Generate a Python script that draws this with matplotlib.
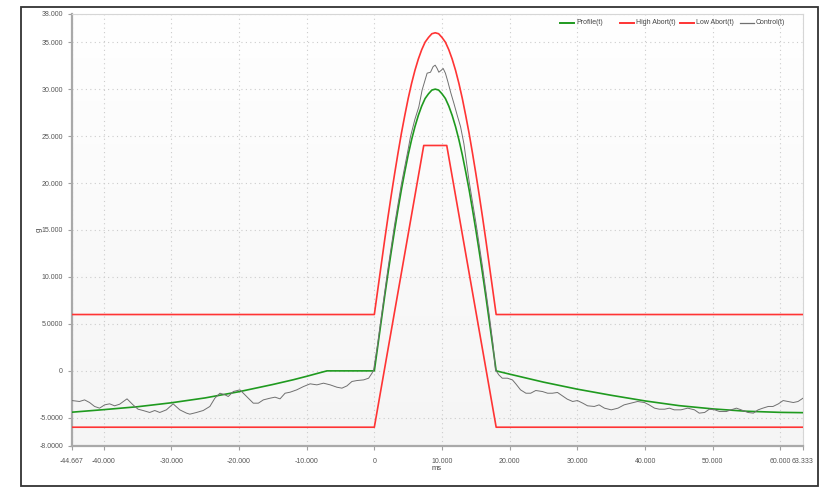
import numpy as np
import matplotlib
matplotlib.use("Agg")
import matplotlib.pyplot as plt
from matplotlib.colors import LinearSegmentedColormap
from matplotlib.lines import Line2D
from matplotlib.patches import Rectangle

plt.rcParams['font.family'] = ['Liberation Sans', 'DejaVu Sans']

# ---------------- data ----------------
# Profile(t): left tail, flat section, pulse, right tail
profile_t = [-44.667, -40, -35, -30, -25, -20, -15, -12, -10, -8, -7,
             0, 0.5, 1, 1.5, 2, 2.5, 3, 3.5, 4, 4.5, 5, 5.5, 6, 6.5, 7, 7.5, 8, 8.5, 9,
             9.5, 10, 10.5, 11, 11.5, 12, 12.5, 13, 13.5, 14, 14.5, 15, 15.5, 16, 16.5,
             17, 17.5, 18,
             20, 25, 30, 35, 40, 45, 50, 55, 60, 63.333]
profile_g = [-4.40, -4.13, -3.82, -3.40, -2.88, -2.22, -1.45, -0.95, -0.58, -0.19, 0.0,
             0.0, 2.6, 5.2, 7.8, 10.3, 12.7, 15.0, 17.2, 19.3, 21.2, 23.0, 24.6, 26.0,
             27.2, 28.2, 29.0, 29.5, 29.9, 30.0,
             29.9, 29.5, 29.0, 28.2, 27.2, 26.0, 24.6, 23.0, 21.2, 19.3, 17.2, 15.0, 12.7,
             10.3, 7.8, 5.2, 2.6, 0.0,
             -0.35, -1.20, -1.95, -2.60, -3.20, -3.70, -4.05, -4.30, -4.42, -4.45]

# High Abort(t)
high_t = [-44.667, 0, 0.5, 1, 1.5, 2, 2.5, 3, 3.5, 4, 4.5, 5, 5.5, 6, 6.5, 7, 7.5, 8, 8.5, 9,
          9.5, 10, 10.5, 11, 11.5, 12, 12.5, 13, 13.5, 14, 14.5, 15, 15.5, 16, 16.5,
          17, 17.5, 18, 63.333]
high_g = [6.0, 6.0, 8.6, 11.2, 13.8, 16.3, 18.7, 21.0, 23.2, 25.3, 27.2, 29.0, 30.6, 32.0,
          33.2, 34.2, 35.0, 35.5, 35.9, 36.0,
          35.9, 35.5, 35.0, 34.2, 33.2, 32.0, 30.6, 29.0, 27.2, 25.3, 23.2, 21.0, 18.7,
          16.3, 13.8, 11.2, 8.6, 6.0, 6.0]

# Low Abort(t)
low_t = [-44.667, 0, 7.3, 10.7, 18, 63.333]
low_g = [-6.0, -6.0, 24.0, 24.0, -6.0, -6.0]

# Control(t): measured trace
control_t = [-44.667, -43.56, -42.81, -42.07, -41.33, -40.59, -39.85, -39.11, -38.37, -37.63,
             -36.54, -35.65, -34.91, -34.17, -33.19, -32.44, -31.70, -30.72, -29.73, -28.74,
             -27.75, -27.26, -26.27, -25.28, -24.30, -23.56, -22.81, -22.07, -21.58, -20.84,
             -19.85, -19.36, -18.62, -17.88, -17.14, -16.40, -15.41, -14.67, -13.93, -13.19,
             -12.44, -11.46, -10.47, -9.48, -8.49, -7.51, -6.52, -5.53, -4.79, -4.05,
             -3.31, -2.57, -1.58, -0.84, -0.35, -0.10,
             0.5, 1.0, 2.0, 3.0, 4.0, 5.0, 5.33, 6.0, 6.57, 7.06, 7.56, 7.80, 8.30, 8.69,
             8.99, 9.28, 9.53, 9.88, 10.17, 10.50, 10.86, 11.26, 11.75, 12.25, 12.74, 13.23,
             14.0, 15.0, 16.0, 17.0, 17.5, 17.9,
             18.4, 18.9, 19.66, 20.4, 20.9, 21.6, 22.4, 23.1, 23.85, 24.84, 25.6, 26.3,
             27.06, 27.8, 28.5, 29.3, 30.0, 30.8, 31.5, 32.5, 33.2, 34.0, 35.0, 36.0, 36.9,
             37.9, 38.9, 39.9, 40.6, 41.4, 42.1, 42.9, 43.6, 44.3, 45.3, 46.3, 47.3, 48.0,
             48.8, 49.5, 50.3, 51.0, 52.0, 52.7, 53.5, 54.2, 55.2, 56.0, 56.7, 57.4, 58.2,
             58.9, 59.7, 60.4, 61.1, 61.9, 62.6, 63.333]
control_g = [-3.16, -3.26, -3.09, -3.37, -3.79, -3.97, -3.62, -3.51, -3.72, -3.55,
             -2.98, -3.62, -4.08, -4.22, -4.43, -4.22, -4.43, -4.15, -3.51, -4.15,
             -4.50, -4.61, -4.43, -4.22, -3.79, -2.91, -2.38, -2.55, -2.73, -2.20,
             -2.02, -2.38, -2.91, -3.44, -3.44, -3.09, -2.91, -2.80, -2.98, -2.38,
             -2.27, -2.02, -1.67, -1.38, -1.49, -1.31, -1.49, -1.74, -1.84, -1.60,
             -1.13, -1.03, -0.96, -0.78, -0.25, 0.10,
             2.9, 5.6, 10.8, 15.6, 19.9, 23.6, 24.9, 26.8, 28.1, 29.9, 31.1, 31.7, 31.8, 32.4,
             32.55, 32.2, 31.8, 32.0, 32.2, 31.7, 30.8, 29.7, 28.5, 27.2, 26.0, 24.2,
             20.2, 15.8, 11.0, 5.8, 3.0, 0.10,
             -0.43, -0.78, -0.78, -0.96, -1.38, -2.02, -2.38, -2.38, -2.09, -2.20, -2.38, -2.38,
             -2.30, -2.66, -3.01, -3.26, -3.16, -3.44, -3.72, -3.79, -3.62, -3.97, -4.15, -3.97,
             -3.62, -3.44, -3.26, -3.37, -3.62, -3.97, -4.08, -4.08, -3.97, -4.15, -4.15, -3.97,
             -4.15, -4.50, -4.43, -4.08, -4.15, -4.33, -4.33, -4.15, -3.97, -4.15, -4.43, -4.50,
             -4.15, -3.97, -3.79, -3.79, -3.51, -3.16, -3.26, -3.37, -3.26, -2.91]

x_ticks = [-44.667, -40, -30, -20, -10, 0, 10, 20, 30, 40, 50, 60, 63.333]
x_labels = ["-44.667", "-40.000", "-30.000", "-20.000", "-10.000", "0", "10.000",
            "20.000", "30.000", "40.000", "50.000", "60.000", "63.333"]
y_ticks = [-8, -5, 0, 5, 10, 15, 20, 25, 30, 35, 38]
y_labels = ["-8.0000", "-5.0000", "0", "5.0000", "10.000", "15.000", "20.000",
            "25.000", "30.000", "35.000", "38.000"]

series_names = ["Profile(t)", "High Abort(t)", "Low Abort(t)", "Control(t)"]
series_colors = ["#1f9a1f", "#ff3434", "#ff3434", "#707070"]

# ---------------- figure ----------------
W, H = 823, 488
fig = plt.figure(figsize=(W / 100, H / 100), dpi=100)


def fx(px):
    return px / W


def fy(py):
    return 1 - py / H


# outer frame
fig.patches.append(Rectangle((fx(21), fy(486)), fx(818) - fx(21), fy(7) - fy(486),
                             transform=fig.transFigure, fill=False,
                             edgecolor="#333333", linewidth=1.3))

ax = fig.add_axes([fx(72), fy(446), fx(803) - fx(72), fy(14) - fy(446)])
x_min, x_max = -44.667, 63.333
y_min, y_max = -8, 38

bg_cmap = LinearSegmentedColormap.from_list("bg", ["#ffffff", "#f5f5f5"])
ax.imshow(np.linspace(0, 1, 256).reshape(-1, 1), cmap=bg_cmap, origin="upper",
          extent=[x_min, x_max, y_min, y_max], aspect="auto", zorder=0,
          interpolation="bilinear")

ax.plot(profile_t, profile_g, color=series_colors[0], lw=1.2, zorder=3)
ax.plot(high_t, high_g, color=series_colors[1], lw=1.2, zorder=3)
ax.plot(low_t, low_g, color=series_colors[2], lw=1.2, zorder=3)
ax.plot(control_t, control_g, color=series_colors[3], lw=0.7, zorder=4)

ax.set_xlim(x_min, x_max)
ax.set_ylim(y_min, y_max)
ax.set_xticks(x_ticks)
ax.set_xticklabels(x_labels)
ax.set_yticks(y_ticks)
ax.set_yticklabels(y_labels)

ax.set_axisbelow(True)
ax.grid(True, color="#cccccc", linestyle=(0, (1, 3)), linewidth=0.8)

for side in ("left", "bottom"):
    ax.spines[side].set_color("#a9a9a9")
    ax.spines[side].set_linewidth(1.6)
for side in ("top", "right"):
    ax.spines[side].set_color("#d6d6d6")
    ax.spines[side].set_linewidth(0.8)

ax.tick_params(axis="both", direction="out", length=3, width=0.8, color="#a0a0a0",
               labelsize=5, labelcolor="#555555")
ax.tick_params(axis="x", pad=5.5)
ax.tick_params(axis="y", pad=3.5)

# axis titles
fig.text(fx(39), fy(230), "g", rotation=90, ha="center", va="center",
         fontsize=5.5, color="#444444")
fig.text(fx(437), fy(469), "ms", ha="center", va="center",
         fontsize=5.5, color="#444444")

# legend in fixed-width columns along the top of the plot
leg_y = fy(22.5)
for i, (name, col) in enumerate(zip(series_names, series_colors)):
    x0 = 560 + 60 * i
    lw = 0.9 if name == "Control(t)" else 1.4
    fig.add_artist(Line2D([fx(x0), fx(x0 + 14)], [leg_y, leg_y], color=col, lw=lw,
                          transform=fig.transFigure))
    fig.text(fx(x0 + 16), leg_y, name, ha="left", va="center", fontsize=5,
             color="#444444")

fig.savefig("out.png", dpi=100)
